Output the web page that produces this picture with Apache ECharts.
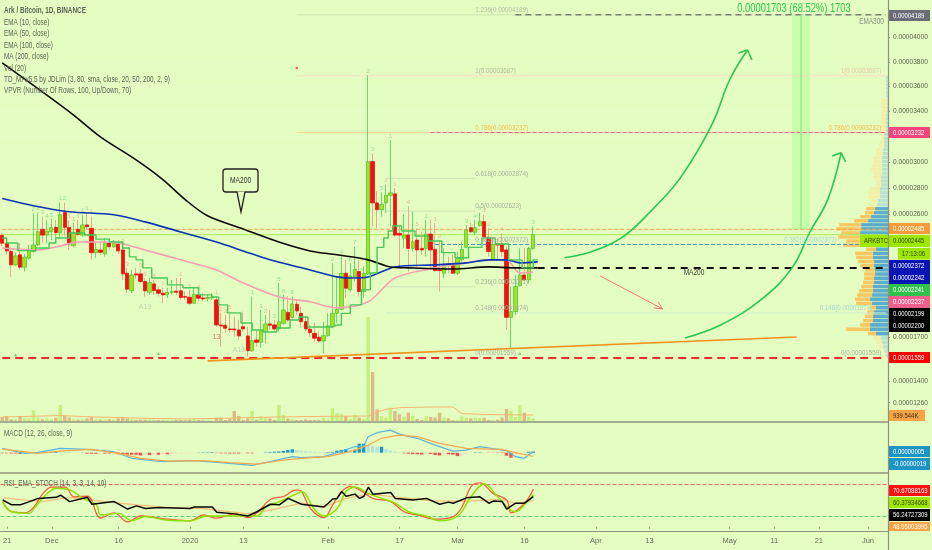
<!DOCTYPE html>
<html>
<head>
<meta charset="utf-8">
<style>html,body{margin:0;padding:0;background:#e4fdc0}#main{width:932px;height:550px}</style>
<script src="https://cdn.jsdelivr.net/npm/echarts@6/dist/echarts.min.js"></script>
</head>
<body>
<div id="main"></div>
<script>
// prices are in satoshi (1e-8 BTC), index 0 = 2019-11-20
var opens = [2440,2381,2319,2221,2295,2204,2270,2319,2368,2485,2442,2467,2500,2460,2612,2500,2362,2485,2442,2518,2492,2311,2331,2302,2385,2355,2375,2331,2160,2034,2155,2155,2100,2022,2082,2039,2015,2003,2020,2030,2032,1991,1986,1943,2003,1981,1976,1981,1967,1789,1787,1761,1761,1754,1777,1712,1608,1684,1668,1742,1796,1789,1761,1800,1878,1843,1936,1871,1812,1759,1730,1703,1677,1714,1777,1871,1900,2160,2039,2135,2172,2027,2155,3004,2685,2633,2685,2743,2754,2455,2418,2442,2343,2405,2343,2343,2450,2336,2184,2160,2228,2216,2160,2258,2351,2497,2462,2513,2543,2425,2258,2375,2375,2331,1843,1883,2068,2147,2111,2343]
var closes = [2381,2324,2221,2287,2204,2278,2326,2368,2467,2442,2472,2497,2460,2595,2500,2375,2462,2448,2518,2505,2311,2336,2314,2381,2355,2381,2324,2155,2044,2147,2147,2100,2032,2092,2034,2015,2003,2020,2027,2022,1984,1986,1943,2008,1979,1974,1984,1988,1789,1782,1766,1756,1754,1712,1761,1610,1679,1668,1747,1796,1787,1761,1812,1895,1824,1938,1888,1812,1761,1735,1696,1677,1714,1782,1871,1900,2160,2051,2140,2189,2027,2160,3004,2685,2633,2672,2743,2762,2442,2442,2442,2343,2392,2331,2331,2450,2331,2179,2179,2228,2221,2160,2270,2336,2480,2467,2497,2543,2430,2319,2373,2368,2319,1843,1883,2063,2147,2111,2343,2445]
var lows = [2360,2295,2133,2214,2189,2172,2258,2311,2362,2383,2381,2405,2420,2427,2442,2331,2355,2435,2430,2480,2258,2273,2295,2282,2331,2346,2302,2111,2015,2015,2118,2089,1991,2003,2003,1991,1946,1981,2003,2003,1967,1967,1931,1938,1955,1955,1955,1967,1777,1638,1733,1733,1707,1684,1742,1569,1603,1638,1629,1661,1754,1749,1742,1789,1812,1831,1860,1777,1742,1707,1672,1665,1592,1707,1766,1803,1895,1979,2027,2100,1991,1981,2147,2505,2495,2581,2607,2505,2430,2208,2346,2172,2319,2208,2295,2282,2184,2172,2027,2123,2160,2155,2147,2245,2343,2457,2442,2505,2405,2282,2253,2258,2282,1754,1627,1860,2063,2100,2087,2331]
var highs = [2460,2420,2346,2311,2383,2302,2368,2607,2610,2581,2556,2564,2556,2687,2687,2551,2533,2556,2595,2610,2581,2383,2392,2420,2420,2405,2405,2368,2199,2184,2199,2191,2125,2125,2111,2063,2054,2054,2111,2125,2125,2027,2039,2054,2027,2015,2008,2015,1991,1874,1860,1883,1848,1824,1883,1777,1991,1754,1895,1860,1895,1824,2089,2003,1991,1991,1967,1919,1845,1789,1803,1742,1812,1871,2234,2135,2282,2258,2234,2355,2258,2208,3694,3069,2774,2764,2825,3174,2800,2518,2595,2659,2620,2492,2467,2556,2556,2530,2405,2343,2282,2295,2319,2392,2518,2533,2556,2610,2595,2492,2418,2418,2455,2355,2063,2147,2343,2346,2355,2505]
var volumes = [1400,1755,585,585,1404,936,936,3744,1170,585,936,468,1170,5616,1755,1170,702,468,468,936,1404,585,468,585,585,468,936,1170,936,585,351,468,468,585,234,351,234,351,234,351,351,234,351,936,351,234,234,234,1170,1170,351,936,3510,1755,351,936,3510,468,1755,1170,936,351,5616,2106,819,585,351,351,585,351,351,351,1170,468,4446,2691,2574,1755,702,2106,1170,702,36500,17200,4095,1755,1170,4680,3510,2340,1404,2925,1755,702,351,1638,1404,1170,2925,1170,936,234,351,1638,1170,936,1170,1053,1170,351,351,468,1170,4212,3744,1404,5616,2925,1404,939]
var macdHist = [-3,-3,-4,-4,-6,1,2,2,1,2,3,3,8,5,4,3,2,1,1,-5,-5,-5,-4,-4,-4,-3,-8,-10,-10,-10,-10,-14,-12,-12,-10,-10,-8,-8,-7,-6,-5,-4,-3,-2,1,2,2,3,-2,-3,-3,-4,-4,-4,-3,-3,-3,-1,0,2,3,5,6,9,14,17,13,10,8,6,5,3,2,3,3,10,14,18,14,15,45,45,38,35,30,30,18,12,5,3,-3,-5,-7,-8,-9,-5,-6,-12,-14,-8,-8,-10,-17,-15,-8,-2,2,2,1,-1,-1,-2,-2,-15,-25,-15,-8,-2,5,6]

// indicator readings, [days since 2019-11-21, value]
var ma200 = [[-1,3792],[9,3531],[15,3371],[21,3198],[29,3017],[35,2864],[40,2710],[45,2587],[53,2487],[61,2390],[68,2324],[74,2295],[81,2258],[86,2206],[90,2199],[100,2191],[108,2206],[114,2199],[119,2199]]
var ema100 = [[-1,2718],[6,2664],[14,2618],[24,2595],[31,2541],[39,2465],[47,2390],[53,2324],[59,2258],[68,2184],[74,2133],[77,2125],[81,2133],[87,2206],[96,2221],[103,2236],[108,2258],[112,2258],[115,2236],[119,2243]]
var ema50 = [[-1,2346],[7,2331],[12,2360],[16,2390],[19,2390],[25,2383],[31,2331],[39,2258],[47,2184],[53,2089],[61,1988],[68,1953],[74,1910],[81,1953],[87,2125],[96,2199],[103,2236],[108,2258],[112,2258],[115,2162],[118,2169]]
var ema10 = [[-1,2420],[1,2383],[4,2326],[6,2326],[7,2346],[9,2346],[10,2383],[12,2420],[16,2457],[19,2442],[21,2412],[25,2390],[27,2346],[28,2280],[30,2258],[31,2199],[34,2125],[38,2075],[41,2054],[45,2003],[47,1988],[48,1931],[51,1874],[54,1803],[56,1754],[59,1740],[62,1768],[65,1824],[66,1845],[69,1775],[72,1775],[74,1789],[76,1871],[78,1931],[81,2039],[82,2162],[84,2350],[85,2420],[86,2473],[87,2510],[90,2473],[93,2435],[96,2398],[99,2311],[102,2273],[105,2350],[108,2420],[111,2375],[114,2258],[117,2199],[119,2258]]
var volAvg = [[-1,1404],[12,1900],[20,1400],[30,1000],[40,700],[50,1000],[60,1404],[70,1600],[81,1755],[83,3160],[85,4095],[88,4680],[95,4914],[100,4914],[102,2574],[110,2200],[118,2106]]
var macdLine = [[-1,22],[4,-3],[7,2],[12,22],[18,17],[24,5],[28,-28],[35,-45],[42,-40],[48,-50],[55,-63],[59,-45],[64,-20],[66,-25],[71,-20],[73,-7],[78,30],[80,33],[81,80],[83,100],[86,113],[88,93],[92,72],[96,38],[100,8],[103,13],[106,30],[109,20],[112,10],[114,-20],[116,-28],[118,5]]
var macdSignal = [[-1,18],[7,-3],[12,8],[19,17],[25,-3],[30,-28],[36,-42],[44,-40],[50,-50],[56,-57],[62,-37],[66,-28],[72,-20],[77,5],[81,38],[84,72],[88,88],[92,80],[97,47],[103,22],[111,17],[114,0],[118,-19]]
var stochK = [[-1,47],[1,28],[4,26],[6,37],[8,62],[10,74],[13,74],[15,56],[18,57],[21,16],[24,26],[27,9],[30,20],[36,14],[41,11],[44,22],[47,16],[51,24],[54,17],[56,26],[59,51],[62,57],[65,69],[66,66],[68,34],[71,17],[73,41],[75,66],[77,75],[79,69],[82,53],[86,47],[89,28],[92,22],[96,14],[100,19],[102,37],[104,75],[106,82],[109,62],[112,50],[113,26],[116,44],[118,70.67]]
var stochD = [[-1,47],[1,28],[5,25],[6,34],[9,62],[11,72],[14,69],[17,53],[20,41],[21,22],[25,25],[28,11],[31,19],[36,12],[41,11],[45,20],[50,20],[56,20],[58,37],[61,47],[65,62],[66,66],[69,31],[71,20],[74,34],[76,66],[78,74],[81,62],[84,53],[87,44],[90,28],[94,20],[97,11],[101,20],[104,56],[107,80],[110,56],[114,28],[116,41],[118,60.38]]
var rsiLine = [[-1,50],[1,41],[3,41],[5,47],[7,53],[11,55],[12,59],[14,47],[18,55],[19,42],[24,47],[27,33],[29,39],[31,34],[34,36],[41,34],[42,37],[46,37],[47,27],[51,24],[54,20],[56,28],[59,42],[61,41],[63,53],[66,42],[71,37],[72,44],[73,52],[74,53],[75,66],[76,57],[78,61],[79,53],[80,57],[81,74],[82,61],[86,64],[87,53],[91,50],[94,53],[97,42],[99,46],[100,44],[103,54],[106,56],[108,44],[109,48],[111,47],[112,33],[114,44],[116,44],[118,56.25]]
var rsiEma = [[-1,54],[8,47],[14,55],[22,47],[29,41],[36,36],[44,34],[54,24],[59,31],[66,44],[71,37],[76,53],[81,61],[88,55],[96,48],[103,48],[111,51],[114,44],[118,48.95]]

// drawings on the chart
var arrowUp1 = [[125,2273],[131,2317],[138,2427],[144,2610],[151,2879],[158,3292],[162,3653],[166,3898]]
var arrowUp1Head = [[164,3874],[166,3898],[167,3817]]
var arrowUp2 = [[152,1698],[160,1789],[169,1967],[176,2199],[180,2465],[184,2710],[187,3072]]
var arrowUp2Head = [[185,3048],[187,3072],[188,3002]]
var trendLine = [[45,1540],[177,1705]]
var arrowDown = [[133,2140],[147,1902]]
var arrowDownHead = [[145,1910],[147,1902],[146,1953]]
var targetLine = [[178,2485],[178,4189]]

// price levels
var fibTexts = ['1.236(0.00004189)','1(0.00003687)','0.786(0.00003232)','0.618(0.00002874)','0.5(0.00002623)','0.382(0.00002372)','0.236(0.00002061)','0.148(0.00001874)','0(0.00001559)']
var fibPrices = [4189,3687,3232,2874,2623,2372,2061,1874,1559]
var tickPrices = [4000,3800,3600,3400,3200,3000,2800,2600,1700,1400,1260]
var tickDates = ['2019-11-21','2019-12-01','2019-12-16','2020-01-01','2020-01-13','2020-02-01','2020-02-17','2020-03-01','2020-03-16','2020-04-01','2020-04-13','2020-05-01','2020-05-11','2020-05-21','2020-06-01']
var tickTexts = ['21','Dec','16','2020','13','Feb','17','Mar','16','Apr','13','May','11','21','Jun']
var legendLines = ['Ark / Bitcoin, 1D, BINANCE','EMA (10, close)','EMA (50, close)','EMA (100, close)','MA (200, close)','Vol (20)','TD_MAv5.5 by JDLim (3, 80, sma, close, 20, 50, 200, 2, 9)','VPVR (Number Of Rows, 100, Up/Down, 70)']

// volume profile rows, bottom to top
var vpTotal = [3,5,9,12,14,20,42,28,25,23,21,18,32,33,31,29,27,25,24,24,23,28,30,32,33,22,45,42,50,47,52,49,34,28,23,22,20,18,20,20,18,12,12,15,15,17,16,15,15,12,12,9,8,7,7,7,7,7,7,7,7,7,7,7,2,2,2,2,2,2]
var vpBlue = [2,3,5,6,7,12,18,18,15,15,14,12,16,18,16,15,15,14,14,13,13,14,14,15,15,12,15,22,27,28,27,27,20,17,14,13,11,10,8,8,8,7,7,7,6,6,6,6,6,5,5,4,4,4,4,2,2,2,2,2,1,1,1,1,2,2,2,2,2,2]

// TD sequential digits, [days since 2019-11-21, digit]
var tdUp = [[6,'2'],[7,'2'],[8,'3'],[9,'4'],[10,'5'],[12,'1'],[13,'2'],[17,'1'],[18,'1'],[55,'1'],[57,'1'],[58,'2'],[60,'3'],[61,'5'],[62,'8'],[64,'8'],[73,'2'],[75,'4'],[77,'6'],[78,'7'],[81,'2'],[82,'3'],[84,'5'],[86,'1'],[94,'1'],[103,'3'],[105,'4'],[106,'5'],[118,'3']]
var tdDown = [[14,'1'],[15,'1'],[16,'1'],[19,'1'],[26,'2'],[27,'3'],[30,'5'],[31,'6'],[33,'8'],[35,'1'],[39,'1'],[41,'3'],[43,'4'],[47,'1'],[48,'2'],[49,'3'],[50,'5'],[85,'1'],[87,'1'],[90,'4'],[92,'5'],[96,'1'],[97,'3'],[107,'1'],[108,'2'],[111,'4'],[112,'5']]
var tdBelow = [[31,'A13','#b9c4a8'],[47,'13','#e8503c'],[52,'A13','#b9c4a8']]

var BG = '#e4fdc0'
var FONT = '"Liberation Sans",sans-serif'
var SQUEEZE = 0.78

// the price scale of the picture is neither linear nor log, this power fits its ticks
function warp(p) { return Math.pow(p, 0.8) }
function unwarp(v) { return Math.pow(v, 1.25) }
function warpAll(a) { return a.map(function (p) { return [p[0] + 1, warp(p[1])] }) }
function shift(a) { return a.map(function (p) { return [p[0] + 1, p[1]] }) }

// one category per day
var categories = []
for (var d = new Date(Date.UTC(2019, 10, 20)); categories.length < 199; d.setUTCDate(d.getUTCDate() + 1)) {
    categories.push(d.toISOString().slice(0, 10))
}

var wickData = opens.map(function (o, i) { return [warp(o), warp(closes[i]), warp(lows[i]), warp(highs[i])] })
var bodyData = opens.map(function (o, i) {
    var hi = Math.max(o, closes[i]), lo = Math.min(o, closes[i])
    return [warp(o), warp(closes[i]), warp(lo), warp(hi)]
})
var volData = volumes.map(function (v, i) {
    return { value: v, itemStyle: { color: closes[i] >= opens[i] ? '#c5f07e' : '#dcbb85' } }
})
var histData = macdHist.map(function (v, i) {
    var prev = i ? macdHist[i - 1] : 0
    var c = v >= 0 ? (v >= prev ? '#2096c4' : '#b5e2da') : (v <= prev ? '#ef5350' : '#f7dcc4')
    return { value: v, itemStyle: { color: c } }
})
var vpStep = (3687 - 1559) / 70
var vpData = vpTotal.map(function (t, i) {
    return [warp(1559 + vpStep * i), warp(1559 + vpStep * (i + 1)), vpBlue[i], t, i]
})

function renderVp(params, api) {
    var low = api.value(0), high = api.value(1), blue = api.value(2), total = api.value(3), row = api.value(4)
    var a = api.coord([0, high]), b = api.coord([blue, low]), c = api.coord([total, low])
    var inArea = row >= 5 && row <= 35
    return {
        type: 'group',
        children: [
            { type: 'rect', shape: { x: b[0], y: a[1], width: a[0] - b[0], height: b[1] - a[1] - 0.6 },
              style: { fill: inArea ? '#5badcb' : '#b9e2d4' } },
            { type: 'rect', shape: { x: c[0], y: a[1], width: b[0] - c[0], height: b[1] - a[1] - 0.6 },
              style: { fill: inArea ? '#f9c862' : '#f4efa6' } }
        ]
    }
}

function line(name, data, color, width, extra) {
    var s = {
        name: name, type: 'line', data: data, showSymbol: false, symbol: 'none', silent: true,
        lineStyle: { color: color, width: width }, z: 5, animation: false,
        xAxisIndex: 0, yAxisIndex: 0
    }
    for (var k in extra) s[k] = extra[k]
    return s
}
function level(name, from, price, color, width, type) {
    return line(name, warpAll([[from, price], [197, price]]), color, width, { lineStyle: { color: color, width: width, type: type }, z: 2 })
}
// fib text, squeezed like the rest of the picture; items are [fib index, day, color]
function fibLabels(items, align) {
    return {
        type: 'custom', silent: true, animation: false, z: 6, xAxisIndex: 0, yAxisIndex: 0, clip: false,
        data: items.map(function (it) { return [it[1] + 1, warp(fibPrices[it[0]]), it[0]] }),
        renderItem: function (params, api) {
            var p = api.coord([api.value(0), api.value(1)])
            var it = items[params.dataIndex]
            return {
                type: 'text', x: p[0], y: p[1] - 5, scaleX: SQUEEZE,
                style: { text: fibTexts[it[0]], fill: it[2], font: '8px ' + FONT, textAlign: align, textVerticalAlign: 'middle' }
            }
        }
    }
}
function digits(items, color) {
    return {
        type: 'scatter', symbolSize: 0, silent: true, animation: false, z: 4, xAxisIndex: 0, yAxisIndex: 0,
        data: items.map(function (it) {
            return { value: [it[0] + 1, warp(highs[it[0] + 1])], label: { show: true, position: 'top', distance: 1, formatter: it[1], color: color, fontSize: 6, fontFamily: FONT } }
        })
    }
}
function digitsBelow(items) {
    return {
        type: 'scatter', symbolSize: 0, silent: true, animation: false, z: 4, xAxisIndex: 0, yAxisIndex: 0,
        data: items.map(function (it) {
            return { value: [it[0] + 1, warp(lows[it[0] + 1])], label: { show: true, position: 'bottom', distance: 7, formatter: it[1], color: it[2], fontSize: 7, fontFamily: FONT } }
        })
    }
}

var series = [
    { type: 'custom', renderItem: renderVp, data: vpData, xAxisIndex: 1, yAxisIndex: 0, encode: { x: [2, 3], y: [0, 1] }, silent: true, z: 1, animation: false, clip: false },
    level('fib1236', 65, 4189, '#cde6b4', 1, 'solid'),
    level('fib1', 65, 3687, '#f8dcc0', 1, 'solid'),
    level('fib786', 65, 3232, '#f5d890', 1, 'solid'),
    line('fib618', warpAll([[85, 2874], [105, 2874]]), '#cfe0bb', 1, { z: 2 }),
    line('fib5', warpAll([[85, 2623], [105, 2623]]), '#cfe0bb', 1, { z: 2 }),
    line('fib236', warpAll([[85, 2061], [105, 2061]]), '#cfe0bb', 1, { z: 2 }),
    level('fib148', 85, 1874, '#cfeed0', 1, 'solid'),
    level('lastClose', -1, 2445, '#aeea5c', 1, 'solid'),
    level('dash2485', -1, 2485, '#f0a850', 1, 'dashed'),
    level('dash2372', 96, 2372, '#3f96d6', 1, 'dashed'),
    level('dash3232', 95, 3232, '#f0609a', 1, 'dashed'),
    level('dash2199', 119, 2199, '#111111', 2, [7, 6]),
    level('dash4189', 114, 4189, '#7d8278', 1.5, [6, 4]),
    line('target', warpAll(targetLine), '#96ea90', 1.5, {
        markArea: { silent: true, itemStyle: { color: '#c7fdab' }, data: [[{ coord: [categories[177], warp(2485)] }, { coord: [categories[181], warp(4189)] }]] },
        z: 2
    }),
    level('support', -1, 1559, '#f52a2a', 2, [8, 5]),
    line('trend', warpAll(trendLine), '#f0941e', 1.6, {}),

    { name: 'wick', type: 'candlestick', data: wickData, barWidth: 1, z: 3, silent: true, animation: false,
      itemStyle: { color: '#6ad96a', color0: '#e8a88c', borderColor: '#6ad96a', borderColor0: '#e8a88c', borderWidth: 1 } },
    { name: 'body', type: 'candlestick', data: bodyData, barWidth: 3.8, z: 3, silent: true, animation: false,
      itemStyle: { color: '#9fe41f', color0: '#f01212', borderColor: '#55c63e', borderColor0: '#f01212', borderWidth: 0.8 } },

    digits(tdUp, '#7fd68a'), digits(tdDown, '#eba889'), digitsBelow(tdBelow),

    line('ema50', warpAll(ema50), '#f4a0b0', 1.6, { smooth: 0.3 }),
    line('ema100', warpAll(ema100), '#0b35b5', 1.6, { smooth: 0.3 }),
    line('ma200', warpAll(ma200), '#0a0a0a', 1.6, { smooth: 0.3 }),
    line('ema10', warpAll(ema10), '#48c85a', 1.4, { step: 'middle' }),

    line('up1', warpAll(arrowUp1), '#27c752', 1.6, { smooth: 0.4 }),
    line('up1h', warpAll(arrowUp1Head), '#27c752', 1.6, {}),
    line('up2', warpAll(arrowUp2), '#27c752', 1.6, { smooth: 0.4 }),
    line('up2h', warpAll(arrowUp2Head), '#27c752', 1.6, {}),
    line('down', warpAll(arrowDown), '#f07676', 1, {}),
    line('downh', warpAll(arrowDownHead), '#f07676', 1, {}),

    fibLabels([[0, 105, '#b4bea4'], [1, 105, '#b4bea4'], [2, 105, '#f0bc48'], [3, 105, '#a9b0a0'], [4, 105, '#a9b0a0'], [5, 105, '#a9b0a0'], [6, 105, '#a9b0a0'], [7, 105, '#a9b0a0'], [8, 105, '#a9b0a0']], 'left'),
    fibLabels([[1, 196, '#e8c8ae'], [2, 196, '#f0bc48'], [5, 186, '#a6d8d0'], [7, 194, '#a6d8d0'], [8, 196, '#a9b0a0']], 'right'),

    { type: 'bar', data: volData, barWidth: 3.4, xAxisIndex: 2, yAxisIndex: 1, silent: true, animation: false, z: 1 },
    line('volAvg', shift(volAvg), '#f2b76e', 1, { xAxisIndex: 2, yAxisIndex: 1 }),

    { type: 'bar', data: histData, barWidth: 3.4, xAxisIndex: 3, yAxisIndex: 2, silent: true, animation: false, z: 2 },
    line('macd', shift(macdLine), '#5ab5dc', 1.2, { xAxisIndex: 3, yAxisIndex: 2 }),
    line('signal', shift(macdSignal), '#f5a94e', 1.2, { xAxisIndex: 3, yAxisIndex: 2 }),

    line('rsiEma', shift(rsiEma), '#f2c078', 1.2, {
        xAxisIndex: 4, yAxisIndex: 3,
        markLine: { silent: true, symbol: 'none', label: { show: false }, animation: false, data: [
            { yAxis: 80, lineStyle: { color: '#e8705c', type: 'dashed', width: 1 } },
            { yAxis: 20, lineStyle: { color: '#58d47a', type: 'dashed', width: 1 } }
        ] }
    }),
    line('stochK', shift(stochK), '#f0603c', 1.3, { xAxisIndex: 4, yAxisIndex: 3, smooth: 0.4 }),
    line('stochD', shift(stochD), '#8fe000', 1.4, { xAxisIndex: 4, yAxisIndex: 3, smooth: 0.4 }),
    line('rsi', shift(rsiLine), '#0a0a0a', 1.5, { xAxisIndex: 4, yAxisIndex: 3 }),

    { type: 'scatter', symbol: 'circle', symbolSize: 2.5, itemStyle: { color: '#f03030' }, data: [[66, warp(3751)]], silent: true, animation: false, xAxisIndex: 0, yAxisIndex: 0 },
    { type: 'scatter', symbol: 'triangle', symbolSize: 3, itemStyle: { color: '#46c65a' }, data: [[3, warp(1580)], [35, warp(1590)], [116, warp(1590)]], silent: true, animation: false, xAxisIndex: 0, yAxisIndex: 0 }
]

function catAxis(gridIndex, showLabels) {
    var a = {
        type: 'category', gridIndex: gridIndex, data: categories, boundaryGap: true,
        axisLine: { show: false }, axisTick: { show: false }, axisLabel: { show: false }, splitLine: { show: false }
    }
    if (showLabels) {
        a.axisTick = { show: true, length: 2, alignWithLabel: true, lineStyle: { color: '#8d9180' }, interval: function (i, v) { return tickDates.indexOf(v) >= 0 } }
        a.axisLabel = {
            show: true, margin: 6, fontSize: 7.5, fontFamily: FONT, color: '#666c5e',
            interval: function (i, v) { return tickDates.indexOf(v) >= 0 },
            formatter: function (v) { return tickTexts[tickDates.indexOf(v)] }
        }
    }
    return a
}

var option = {
    backgroundColor: BG,
    animation: false,
    grid: [
        { left: -2.72, right: 44, top: 0, height: 421 },
        { left: -2.72, right: 44, top: 316, height: 105 },
        { left: -2.72, right: 44, top: 423, height: 49 },
        { left: -2.72, right: 44, top: 474, height: 57 }
    ],
    xAxis: [
        catAxis(0),
        { type: 'value', gridIndex: 0, position: 'top', inverse: true, min: 0, max: 890.72, show: false },
        catAxis(1),
        catAxis(2),
        catAxis(3, true)
    ],
    yAxis: [
        {
            type: 'value', gridIndex: 0, position: 'right', min: 279.2, max: 808.8,
            axisLine: { show: false },
            axisTick: { show: true, length: 2, customValues: tickPrices.map(warp), lineStyle: { color: '#8d9180' } },
            axisLabel: {
                show: true, margin: 5, fontSize: 6.6, fontFamily: FONT, color: '#5d6356',
                customValues: tickPrices.map(warp),
                formatter: function (v) { return (Math.round(unwarp(v) / 10) * 10 / 1e8).toFixed(8) }
            },
            splitLine: { show: true, lineStyle: { color: '#ebfed2', type: 'dotted', width: 1 } }
        },
        { type: 'value', gridIndex: 1, min: 0, max: 36850, show: false, splitLine: { show: false } },
        { type: 'value', gridIndex: 2, min: -96.5, max: 148.5, show: false, splitLine: { show: false } },
        { type: 'value', gridIndex: 3, min: -8.1, max: 98.75, show: false, splitLine: { show: false } }
    ],
    series: series,
    graphic: { elements: buildGraphics() }
}

function buildGraphics() {
    var g = []
    function text(x, y, s, color, size, extra) {
        var st = { text: s, fill: color, font: (extra && extra.bold ? 'bold ' : '') + size + 'px ' + FONT, textAlign: (extra && extra.align) || 'left', textVerticalAlign: 'middle' }
        g.push({ type: 'text', x: x, y: y, scaleX: SQUEEZE, z: 50, silent: true, style: st })
    }
    function tag(s, y0, y1, bg, fg, x0, x1) {
        x0 = x0 || 889
        x1 = x1 || 930
        g.push({ type: 'rect', z: 40, silent: true, shape: { x: x0, y: y0, width: x1 - x0, height: y1 - y0 }, style: { fill: bg } })
        text(x0 + 4, (y0 + y1) / 2, s, fg, 7.6)
    }
    // pane separators and axis lines
    g.push({ type: 'line', z: 45, silent: true, shape: { x1: 0, y1: 422, x2: 888, y2: 422 }, style: { stroke: '#8f9481', lineWidth: 1.6 } })
    g.push({ type: 'line', z: 45, silent: true, shape: { x1: 0, y1: 473, x2: 888, y2: 473 }, style: { stroke: '#8f9481', lineWidth: 1.6 } })
    g.push({ type: 'line', z: 45, silent: true, shape: { x1: 0, y1: 531.5, x2: 888, y2: 531.5 }, style: { stroke: '#8f9481', lineWidth: 1.2 } })
    g.push({ type: 'line', z: 45, silent: true, shape: { x1: 888.5, y1: 0, x2: 888.5, y2: 550 }, style: { stroke: '#8f9481', lineWidth: 1.2 } })

    // legends
    var ly = [11, 22.5, 34, 45.5, 57, 68.5, 80, 91]
    legendLines.forEach(function (s, i) { text(4, ly[i], s, '#5e6458', 8.2, { bold: i == 0 }) })
    text(4, 434, 'MACD (12, 26, close, 9)', '#5e6458', 8.2)
    text(4, 484, 'RSI_EMA_STOCH (14, 3, 3, 14, 10)', '#5e6458', 8.2)

    // drawings
    g.push({ type: 'rect', z: 30, silent: true, shape: { x: 223, y: 169, width: 35, height: 23, r: 3 }, style: { fill: BG, stroke: '#222', lineWidth: 1.3 } })
    g.push({ type: 'polygon', z: 31, silent: true, shape: { points: [[237, 191.5], [241, 212], [245, 191.5]] }, style: { fill: BG, stroke: 'none' } })
    g.push({ type: 'polyline', z: 32, silent: true, shape: { points: [[237, 192], [241, 212], [245, 192]] }, style: { stroke: '#222', lineWidth: 1.3, fill: 'none' } })
    text(240.5, 180.5, 'MA200', '#333', 8.6, { align: 'center' })
    text(694, 273, 'MA200', '#3c4238', 8.4, { align: 'center' })
    text(871.5, 21.5, 'EMA300', '#8a9082', 8.2, { align: 'center' })
    text(794, 8.5, '0.00001703 (68.52%) 1703', '#2ccb4e', 12, { align: 'center' })

    // price tags
    tag('0.00004189', 10, 21, '#696d78', '#fff')
    tag('0.00003232', 127, 138, '#f5447c', '#fff')
    tag('0.00002485', 223, 234, '#f59b3c', '#fff')
    tag('0.00002445', 235, 247, '#9ee800', '#31400c')
    tag('ARKBTC', 235, 247, '#9ee800', '#31400c', 860, 888)
    tag('17:13:06', 248, 259.5, '#9ee800', '#31400c', 898, 930)
    tag('0.00002372', 260, 272, '#0a14b4', '#fff')
    tag('0.00002242', 272, 284, '#0a14b4', '#fff')
    tag('0.00002241', 284, 296, '#30c24c', '#fff')
    tag('0.00002237', 296, 308, '#f0608e', '#fff')
    tag('0.00002199', 308, 320, '#000', '#fff')
    tag('0.00002200', 320, 332, '#000', '#fff')
    tag('0.00001559', 352, 363, '#ff0000', '#fff')
    tag('939.544K', 410, 421, '#f6a444', '#3a3020', 889, 925)
    tag('0.00000005', 446, 457, '#1c94c4', '#fff')
    tag('-0.00000019', 458, 470, '#1c94c4', '#fff')
    tag('70.67088163', 485, 496, '#ff1010', '#fff')
    tag('60.37934668', 497, 508, '#9ee800', '#31400c')
    tag('56.24727309', 509, 521, '#000', '#fff')
    tag('48.95003995', 522, 531, '#f6a444', '#fff')
    return g
}

var myChart = echarts.init(document.getElementById('main'))
myChart.setOption(option)
</script>
</body>
</html>
